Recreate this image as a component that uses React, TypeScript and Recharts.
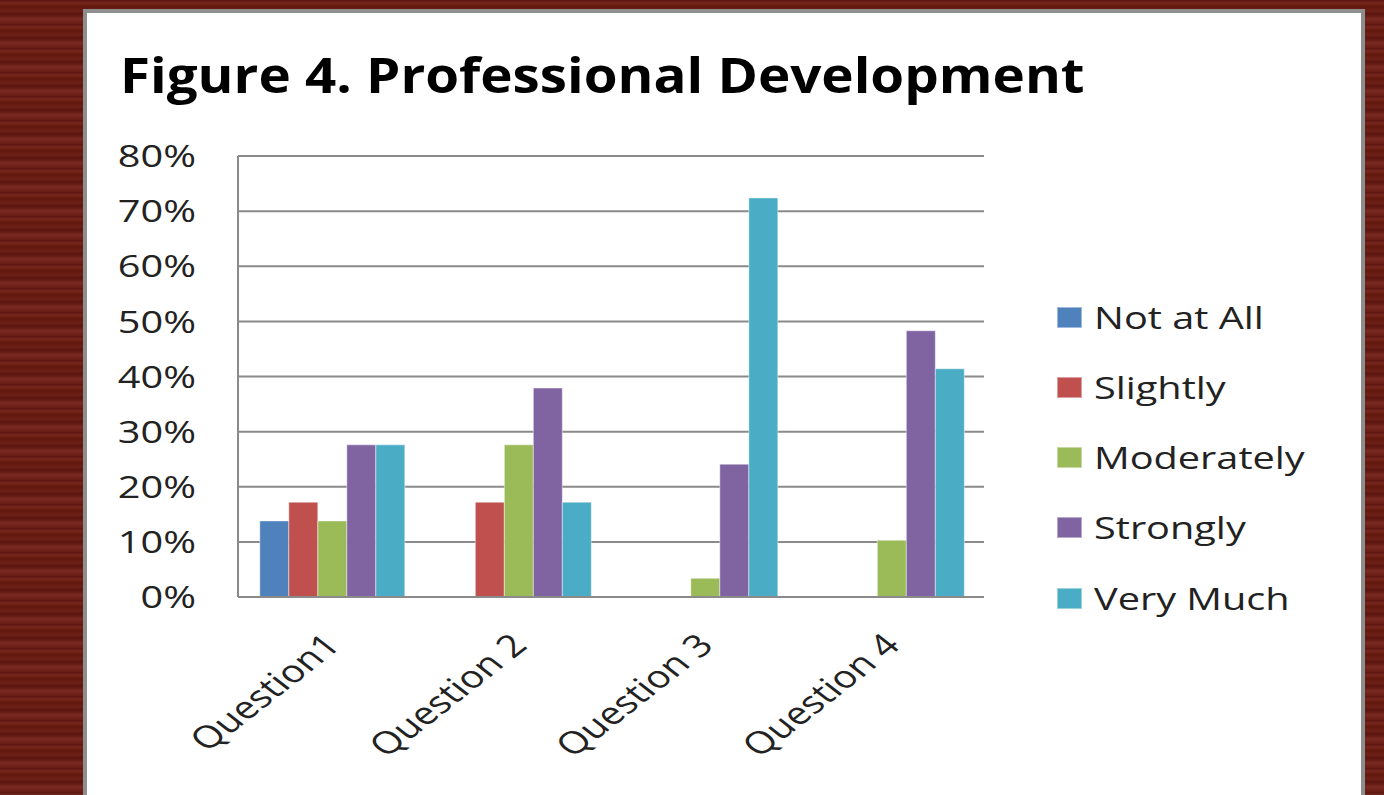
import React from 'react';
import { BarChart, Bar, XAxis, YAxis, CartesianGrid, Legend } from 'recharts';

const categories = ['Question1', 'Question 2', 'Question 3', 'Question 4'];
const seriesNames = ['Not at All', 'Slightly', 'Moderately', 'Strongly', 'Very Much'];
const notAtAll = [13.8, 0, 0, 0];
const slightly = [17.2, 17.2, 0, 0];
const moderately = [13.8, 27.6, 3.4, 10.3];
const strongly = [27.6, 37.9, 24.1, 48.3];
const veryMuch = [27.6, 17.2, 72.4, 41.4];
const yTicks = [0, 10, 20, 30, 40, 50, 60, 70, 80];
const seriesColors = ['#4F81BD', '#C0504D', '#9BBB59', '#8064A2', '#4BACC6'];
const titleText = 'Figure 4. Professional Development';

const seriesValues = [notAtAll, slightly, moderately, strongly, veryMuch];
const data = categories.map((c, i) => {
  const row: Record<string, any> = { name: c };
  seriesNames.forEach((s, j) => {
    row[s] = seriesValues[j][i];
  });
  return row;
});

const FONT = "'Open Sans', sans-serif";
const STRETCH = 1.28;
const FS = 31;

const YTick = (props: any) => {
  const { x, y, payload } = props;
  return (
    <g transform={`translate(${x},${y}) scale(${STRETCH},1)`}>
      <text x={0} y={0} dy="0.36em" textAnchor="end" fontFamily={FONT} fontSize={FS} fill="#222">
        {`${payload.value}%`}
      </text>
    </g>
  );
};

const XTick = (props: any) => {
  const { x, y, payload } = props;
  return (
    <g transform={`translate(${x + 11},${y + 50}) scale(${STRETCH},1) rotate(-45)`}>
      <text x={0} y={0} textAnchor="end" fontFamily={FONT} fontSize={FS} fill="#222">
        {payload.value}
      </text>
    </g>
  );
};

const LegendContent = (props: any) => {
  const items = [...(props.payload || [])].sort(
    (a: any, b: any) => seriesNames.indexOf(a.value) - seriesNames.indexOf(b.value)
  );
  return (
    <div style={{ display: 'flex', flexDirection: 'column' }}>
      {items.map((p: any) => (
        <div key={p.value} style={{ height: 70.25, display: 'flex', alignItems: 'center' }}>
          <div
            style={{
              width: 25,
              height: 21,
              background: p.color,
              boxSizing: 'border-box',
              border: '1px solid rgba(255,255,255,0.45)',
              marginRight: 12,
              flex: 'none',
            }}
          />
          <div
            style={{
              fontFamily: FONT,
              fontSize: FS,
              color: '#222',
              transform: `scaleX(${STRETCH})`,
              transformOrigin: 'left center',
              whiteSpace: 'nowrap',
              lineHeight: 1,
            }}
          >
            {p.value}
          </div>
        </div>
      ))}
    </div>
  );
};

export default function App() {
  return (
    <div
      style={{
        position: 'absolute',
        left: 0,
        top: 0,
        width: 1384,
        height: 795,
        overflow: 'hidden',
        background:
          'repeating-linear-gradient(180deg, #5c1610 0px, #74261d 3px, #62190f 7px, #6d2018 11px, #5a150e 14px, #7a2b22 19px, #661c14 24px)',
      }}
    >
      <div
        style={{
          position: 'absolute',
          left: 83,
          top: 9,
          width: 1282,
          height: 820,
          boxSizing: 'border-box',
          border: '4px solid #8e8e8e',
          borderBottom: 'none',
          background: '#ffffff',
        }}
      />
      <svg style={{ position: 'absolute', left: 0, top: 0 }} width={1384} height={120}>
        <g transform="translate(120,93) scale(1.14,1)">
          <text x={0} y={0} fontFamily={FONT} fontWeight={700} fontSize={48} fill="#000">
            {titleText}
          </text>
        </g>
      </svg>
      <div style={{ position: 'absolute', left: 0, top: 0 }}>
        <BarChart
          width={1384}
          height={795}
          data={data}
          margin={{ top: 156, right: 400, bottom: 98, left: 0 }}
          barCategoryGap="11.7%"
          barGap={0}
        >
          <CartesianGrid vertical={false} stroke="#8a8a8a" strokeWidth={2} />
          <XAxis
            dataKey="name"
            height={100}
            tickLine={false}
            tickSize={0}
            tickMargin={0}
            axisLine={{ stroke: '#8a8a8a', strokeWidth: 2 }}
            tick={<XTick />}
            interval={0}
          />
          <YAxis
            width={238}
            domain={[0, 80]}
            ticks={yTicks}
            tickLine={false}
            tickSize={0}
            tickMargin={42}
            axisLine={{ stroke: '#8a8a8a', strokeWidth: 2 }}
            tick={<YTick />}
            interval={0}
          />
          <Legend
            layout="vertical"
            align="center"
            verticalAlign="middle"
            wrapperStyle={{ left: 1057, top: 282 }}
            content={<LegendContent />}
          />
          {seriesNames.map((s, i) => (
            <Bar
              key={s}
              dataKey={s}
              name={s}
              fill={seriesColors[i]}
              stroke="rgba(255,255,255,0.45)"
              strokeWidth={1}
              isAnimationActive={false}
            />
          ))}
        </BarChart>
      </div>
    </div>
  );
}
